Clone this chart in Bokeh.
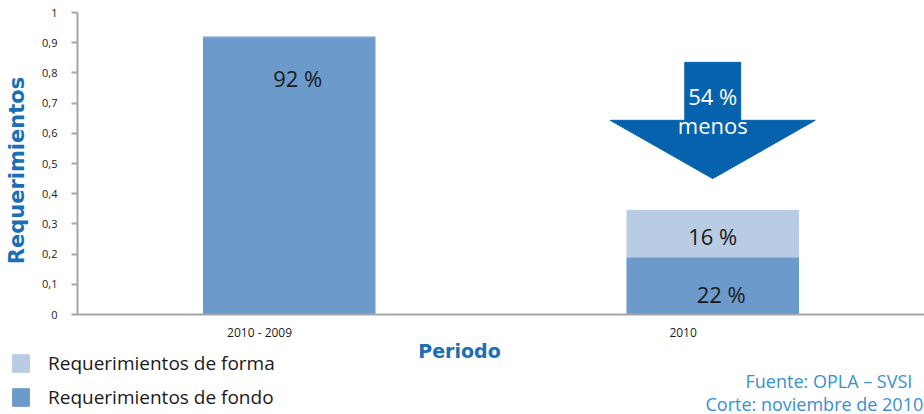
import math
from bokeh.plotting import figure
from bokeh.models import (Range1d, FixedTicker, Label, Legend, LegendItem, ColumnDataSource)
from bokeh.embed import file_html
from bokeh.resources import INLINE

# ---- data ----
periods = ["2010 - 2009", "2010"]
fondo = [0.92, 0.19]          # Requerimientos de fondo (bar heights)
forma = [0.0, 0.155]          # Requerimientos de forma (stacked on top)
fondo_labels = ["92 %", "22 %"]
forma_labels = ["", "16 %"]
reduction_label = ["54 %", "menos"]
series_names = ["Requerimientos de forma", "Requerimientos de fondo"]
y_ticks = [0, 0.1, 0.2, 0.3, 0.4, 0.5, 0.6, 0.7, 0.8, 0.9, 1]
y_tick_labels = ["0", "0,1", "0,2", "0,3", "0,4", "0,5", "0,6", "0,7", "0,8", "0,9", "1"]
source_note = ["Fuente: OPLA – SVSI", "Corte: noviembre de 2010"]

FONT = "Open Sans"
BOLD_FONT = "DejaVu Sans"
C_FONDO = "#6c9bcb"
C_FORMA = "#b9cce4"
C_BLUE = "#1a6fb5"
C_ARROW = "#0662ac"
C_FOOT = "#3a8fd0"
C_AXIS = "#a6a6a6"
C_TEXT = "#1a1a1a"

# ---- layout geometry (pixels) ----
W, H = 924, 414
PLOT_L, PLOT_T, PLOT_B = 77, 12, 314     # where the value axes sit on the canvas
n = len(periods)
unit_x = (W - PLOT_L) / n
unit_y = PLOT_B - PLOT_T
x_range = Range1d(-PLOT_L / unit_x, n)
y_range = Range1d(-(H - PLOT_B) / unit_y, 1 + PLOT_T / unit_y)
TICK_SHIFT = -0.07   # category labels sit slightly left of the bar centres

p = figure(width=W, height=H, x_range=x_range, y_range=y_range,
           output_backend="svg", toolbar_location=None, min_border=0)
p.outline_line_color = None
p.xgrid.visible = False
p.ygrid.visible = False

xs = [i + 0.5 for i in range(n)]
src = ColumnDataSource(dict(x=xs, fondo=fondo, forma=forma,
                            top2=[a + b for a, b in zip(fondo, forma)]))
r_fondo = p.vbar(x="x", top="fondo", bottom=0, width=0.405, color=C_FONDO, source=src)
r_forma = p.vbar(x="x", top="top2", bottom="fondo", width=0.405, color=C_FORMA, source=src)

# value labels
for i in range(n):
    if fondo_labels[i]:
        y = fondo[i] * 0.85 if i == 0 else fondo[i] * 0.35
        p.add_layout(Label(x=xs[i] + 0.02, y=y, text=fondo_labels[i], text_align="center",
                           text_baseline="middle", text_font=FONT, text_font_size="22px",
                           text_color=C_TEXT))
    if forma_labels[i]:
        p.add_layout(Label(x=xs[i], y=fondo[i] + forma[i] * 0.45, text=forma_labels[i],
                           text_align="center", text_baseline="middle", text_font=FONT,
                           text_font_size="22px", text_color=C_TEXT))

# arrow showing the reduction, placed above the 2010 bar
cx = xs[1]
ax = [cx - 0.066, cx + 0.066, cx + 0.066, cx + 0.242, cx, cx - 0.242, cx - 0.066]
ay = [0.835, 0.835, 0.643, 0.643, 0.45, 0.643, 0.643]
p.patch(ax, ay, color=C_ARROW)
p.add_layout(Label(x=cx, y=0.722, text=reduction_label[0], text_align="center",
                   text_baseline="middle", text_font=FONT, text_font_size="22px",
                   text_color="white"))
p.add_layout(Label(x=cx, y=0.628, text=reduction_label[1], text_align="center",
                   text_baseline="middle", text_font=FONT, text_font_size="22px",
                   text_color="white"))

# axes (fixed at the zero lines, so the frame can span the whole canvas)
yax = p.yaxis[0]
yax.fixed_location = 0
yax.bounds = (0, 1)
yax.ticker = FixedTicker(ticks=y_ticks)
yax.major_label_overrides = {t: l for t, l in zip(y_ticks, y_tick_labels)}
yax.minor_tick_line_color = None
yax.major_tick_in = 0
yax.major_tick_out = 6
yax.major_tick_line_color = C_AXIS
yax.major_tick_line_width = 2
yax.axis_line_color = C_AXIS
yax.axis_line_width = 2
yax.major_label_text_font = FONT
yax.major_label_text_font_size = "11px"
yax.major_label_text_color = C_TEXT
yax.major_label_standoff = 14

tick_pos = [x + TICK_SHIFT for x in xs]
xax = p.xaxis[0]
xax.fixed_location = 0
xax.bounds = (0, n)
xax.ticker = FixedTicker(ticks=tick_pos)
xax.major_label_overrides = {x: lab for x, lab in zip(tick_pos, periods)}
xax.major_tick_line_color = None
xax.minor_tick_line_color = None
xax.axis_line_color = C_AXIS
xax.axis_line_width = 2
xax.major_label_text_font = FONT
xax.major_label_text_font_size = "12px"
xax.major_label_text_color = C_TEXT
xax.major_label_standoff = 3

# axis titles
p.add_layout(Label(x=16, y=H - 170, x_units="screen", y_units="screen", text="Requerimientos",
                   angle=math.pi / 2, text_align="center", text_baseline="middle",
                   text_font=BOLD_FONT, text_font_size="21px", text_font_style="bold",
                   text_color=C_BLUE))
p.add_layout(Label(x=459, y=H - 350, x_units="screen", y_units="screen", text="Periodo",
                   text_align="center", text_baseline="middle", text_font=BOLD_FONT,
                   text_font_size="19px", text_font_style="bold", text_color=C_BLUE))

# legend
legend = Legend(items=[LegendItem(label=series_names[0], renderers=[r_forma]),
                       LegendItem(label=series_names[1], renderers=[r_fondo])],
                location=(10, 4), orientation="vertical", padding=0, margin=0,
                spacing=8, glyph_width=21, glyph_height=22, label_standoff=17,
                label_text_font=FONT, label_text_font_size="19px", label_height=22,
                label_text_color=C_TEXT, border_line_color=None,
                background_fill_alpha=0)
p.add_layout(legend, "center")

# source note
p.add_layout(Label(x=745, y=H - 380, x_units="screen", y_units="screen",
                   text=source_note[0], text_align="left", text_baseline="middle",
                   text_font=FONT, text_font_size="18px", text_color=C_FOOT))
p.add_layout(Label(x=705, y=H - 403, x_units="screen", y_units="screen",
                   text=source_note[1], text_align="left", text_baseline="middle",
                   text_font=FONT, text_font_size="18px", text_color=C_FOOT))

open("out.html", "w").write(file_html(p, INLINE))
